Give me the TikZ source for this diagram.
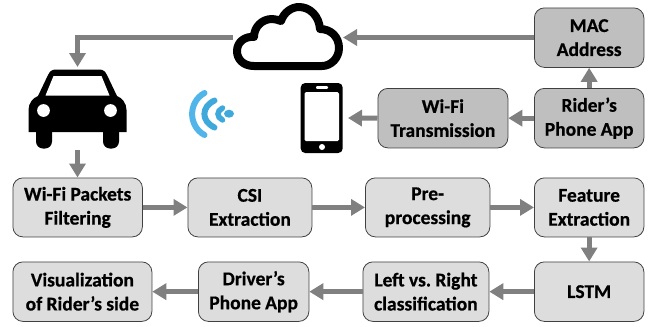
\documentclass[tikz,border=0pt]{standalone}
\usepackage{fontspec}
\setmainfont{Carlito}[BoldFeatures={FakeBold=0.6}]
\usetikzlibrary{arrows.meta}
\definecolor{boxlight}{HTML}{DDDDDD}
\definecolor{boxdark}{HTML}{BFBFBF}
\definecolor{conn}{HTML}{808080}
\definecolor{edge}{HTML}{404040}
\definecolor{wifiA}{HTML}{52B5EA}
\definecolor{wifiB}{HTML}{3FA9DC}
\tikzset{
  x=1pt,y=-1pt,
  flowbox/.style={draw=edge,line width=0.8pt,rounded corners=10pt,inner sep=0pt,align=center,
    font=\fontsize{19.5pt}{24pt}\selectfont\bfseries,anchor=north west},
  lightbox/.style={flowbox,fill=boxlight},
  darkbox/.style={flowbox,fill=boxdark},
  flow/.style={draw=conn,line width=5pt,-{Triangle[length=14pt,width=16pt]}},
  wave/.style={line cap=round},
}
\newcommand{\bx}[7]{\node[#1,minimum width=#4pt-#2pt,minimum height=#5pt-#3pt,text width=#4pt-#2pt] (#6) at (#2,#3) {\frenchspacing\spaceskip=0.22em\relax #7};}
\begin{document}
\begin{tikzpicture}
\useasboundingbox (0,0) rectangle (649,327);
\bx{darkbox}{534}{7.5}{643.5}{67}{mac}{MAC\\Address}
\bx{darkbox}{534}{88}{643.5}{147.5}{rider}{Rider’s\\Phone App}
\bx{darkbox}{377.5}{88}{507.5}{147.5}{trans}{Wi-Fi\\Transmission}
\bx{lightbox}{12.5}{177.5}{142}{236.5}{filter}{Wi-Fi Packets\\Filtering}
\bx{lightbox}{187.5}{177.5}{311.5}{236.5}{csi}{CSI\\Extraction}
\bx{lightbox}{365}{177.5}{489.5}{236.5}{pre}{Pre-\\processing}
\bx{lightbox}{534}{177.5}{643.5}{236.5}{feat}{Feature\\Extraction}
\bx{lightbox}{12.5}{261.5}{151.5}{321}{vis}{Visualization\\of Rider’s side}
\bx{lightbox}{198}{261.5}{308.5}{321}{drv}{Driver’s\\Phone App}
\bx{lightbox}{362.5}{261.5}{488.5}{321}{lr}{Left vs. Right\\classification}
\bx{lightbox}{534}{261.5}{643.5}{321}{lstm}{LSTM}
% cloud
\draw[black,line width=8pt,fill=white,line join=round]
  (254,66) .. controls (243,66) and (237,59) .. (237,51)
  .. controls (237,42) and (245,36) .. (254,37)
  .. controls (254,27) and (262,19) .. (272,19)
  .. controls (275,19) and (278,20) .. (281,21)
  .. controls (284,12) and (292,7) .. (299,7)
  .. controls (310,7) and (319,16) .. (320,29)
  .. controls (331,29) and (339,37) .. (339,48)
  .. controls (339,58) and (331,66) .. (322,66) -- cycle;
\coordinate (cloudR) at (343,37.5);
\coordinate (cloudL) at (233,37.5);
% car
\fill[black] (28.5,132) -- (28.5,110) .. controls (28.5,103) and (33,98) .. (38,96)
  -- (48,75) .. controls (50,71) and (52,69.5) .. (56,69.5) -- (99,69.5)
  .. controls (103,69.5) and (105,71) .. (107,75) -- (117,96)
  .. controls (122,98) and (126.5,103) .. (126.5,110) -- (126.5,132) -- cycle;
\fill[black,rounded corners=7pt] (36,125) rectangle (52,148.5);
\fill[black,rounded corners=7pt] (103,125) rectangle (119,148.5);
\fill[white] (45.5,95.5) -- (53.5,76) -- (101.5,76) -- (109.5,95.5) -- cycle;
\fill[white] (43.5,110.5) circle[radius=6.4pt];
\fill[white] (110.5,110.5) circle[radius=6.4pt];
\coordinate (carT) at (77.5,67);
\coordinate (carB) at (77.5,150);
% phone
\fill[black,rounded corners=4.5pt] (300.7,83) rectangle (342.7,153);
\fill[white,rounded corners=1.5pt] (304.5,92) rectangle (339,141);
\fill[white,rounded corners=1pt] (316,86.2) rectangle (328,88.8);
\fill[white] (322,147) circle[radius=3pt];
\coordinate (phoneR) at (348,118);
% wifi
\fill[wifiB] (229,113.7) ellipse[x radius=5pt,y radius=4pt];
\draw[wave,wifiB,line width=5.5pt] (222.5,108) .. controls (216.5,111) and (216.5,117) .. (222.5,120);
\draw[wave,wifiB,line width=6pt] (214.5,100.5) .. controls (201,107) and (201,121) .. (214.5,127.5);
\draw[wave,wifiA,line width=6pt] (204.5,93) .. controls (188,102) and (188,126) .. (204.5,135);
% connectors
\draw[flow] (mac.west |- cloudR) -- (cloudR);
\draw[flow] (cloudL) -| (carT);
\draw[flow] (carB) -- (carB |- filter.north);
\draw[flow] (rider.north) -- (mac.south);
\draw[flow] (rider.west) -- (trans.east);
\draw[flow] (trans.west) -- (phoneR);
\draw[flow] (filter.east) -- (csi.west);
\draw[flow] (csi.east) -- (pre.west);
\draw[flow] (pre.east) -- (feat.west);
\draw[flow] (feat.south) -- (lstm.north);
\draw[flow] (lstm.west) -- (lr.east);
\draw[flow] (lr.west) -- (drv.east);
\draw[flow] (drv.west) -- (vis.east);
\end{tikzpicture}
\end{document}
